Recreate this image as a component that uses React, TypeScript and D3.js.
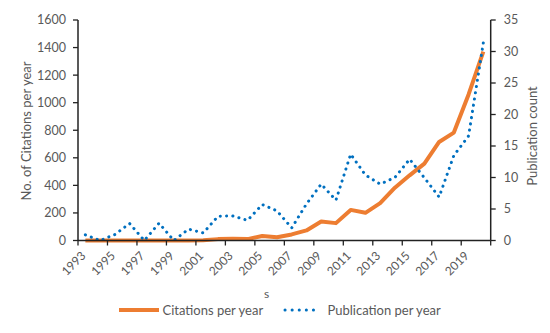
import React from "react";
import * as d3 from "d3";

const W = 550;
const H = 333;
const PLOT = { left: 78, right: 490.7, top: 20, bottom: 240.5 };

const years = d3.range(1993, 2021).map(String);
const yearLabels = ["1993", "1995", "1997", "1999", "2001", "2003", "2005", "2007", "2009", "2011", "2013", "2015", "2017", "2019"];
const citations = [0, 0, 0, 0, 0, 0, 0, 0, 2, 10, 12, 10, 33, 24, 44, 73, 138, 126, 222, 201, 271, 383, 473, 558, 715, 783, 1060, 1370];
const publications = [0.9, 0, 0.95, 2.7, 0, 2.75, 0, 1.8, 1.2, 3.85, 3.9, 3.2, 5.7, 4.7, 2, 5.8, 8.95, 6.4, 13.7, 10.4, 8.95, 10, 12.9, 9.95, 6.9, 13.5, 16.6, 31.4];
const leftTicks = [0, 200, 400, 600, 800, 1000, 1200, 1400, 1600];
const rightTicks = [0, 5, 10, 15, 20, 25, 30, 35];

const FONT = "Lato, 'Open Sans', sans-serif";
const GREY = "#595959";
const ORANGE = "#ed7d31";
const BLUE = "#0070c0";

export default function App() {
  const x = d3.scaleBand<string>().domain(years).range([PLOT.left, PLOT.right]).padding(0);
  const yL = d3.scaleLinear().domain([0, 1600]).range([PLOT.bottom, PLOT.top]);
  const yR = d3.scaleLinear().domain([0, 35]).range([PLOT.bottom, PLOT.top]);
  const cx = (y: string) => (x(y) || 0) + x.bandwidth() / 2;

  const citeLine = d3.line<number>().x((_, i) => cx(years[i])).y(d => yL(d));
  const pubLine = d3.line<number>().x((_, i) => cx(years[i])).y(d => yR(d));

  // ticks between categories, every second boundary
  const boundaries = d3.range(0, years.length + 1, 2).map(i => PLOT.left + i * x.bandwidth());

  return (
    <div style={{ margin: -8 }}>
      <svg width={W} height={H} style={{ display: "block", fontFamily: FONT }}>
        <rect x={4.5} y={4.5} width={543} height={323} fill="#fff" stroke="#d9d9d9" />

        <path d={citeLine(citations) || ""} fill="none" stroke={ORANGE} strokeWidth={4} strokeLinejoin="round" />
        <path d={pubLine(publications) || ""} fill="none" stroke={BLUE} strokeWidth={3}
          strokeLinecap="round" strokeDasharray="0.1 6.2" />

        {/* x axis */}
        <line x1={PLOT.left} x2={PLOT.right} y1={PLOT.bottom} y2={PLOT.bottom} stroke="#222" strokeWidth={1.5} />
        {boundaries.map(b => (
          <line key={b} x1={b} x2={b} y1={PLOT.bottom} y2={PLOT.bottom + 5} stroke="#222" strokeWidth={1.3} />
        ))}
        {yearLabels.map(l => (
          <text key={l} transform={`translate(${cx(l) + 1},${PLOT.bottom + 16}) rotate(-45)`}
            textAnchor="end" fontSize={12} fill={GREY}>{l}</text>
        ))}

        {/* left axis */}
        <line x1={PLOT.left} x2={PLOT.left} y1={PLOT.top} y2={PLOT.bottom} stroke="#222" strokeWidth={1.5} />
        {leftTicks.map(t => (
          <g key={t}>
            <line x1={PLOT.left - 5} x2={PLOT.left} y1={yL(t)} y2={yL(t)} stroke="#222" strokeWidth={1.3} />
            <text x={PLOT.left - 12} y={yL(t)} dy="0.35em" textAnchor="end" fontSize={12.5} fill={GREY}>{t}</text>
          </g>
        ))}

        {/* right axis */}
        <line x1={PLOT.right} x2={PLOT.right} y1={PLOT.top} y2={PLOT.bottom} stroke="#222" strokeWidth={1.5} />
        {rightTicks.map(t => (
          <g key={t}>
            <line x1={PLOT.right} x2={PLOT.right + 5} y1={yR(t)} y2={yR(t)} stroke="#222" strokeWidth={1.3} />
            <text x={PLOT.right + 13} y={yR(t)} dy="0.35em" textAnchor="start" fontSize={12.5} fill={GREY}>{t}</text>
          </g>
        ))}

        {/* axis titles */}
        <text transform="translate(31,131) rotate(-90)" textAnchor="middle" fontSize={13} fill={GREY}>No. of Citations per year</text>
        <text transform="translate(537,136) rotate(-90)" textAnchor="middle" fontSize={13} fill={GREY}>Publication count</text>
        <text x={266.7} y={298} textAnchor="middle" fontSize={12} fill={GREY}>s</text>

        {/* legend */}
        <line x1={119} x2={159} y1={310} y2={310} stroke={ORANGE} strokeWidth={4} />
        <text x={162.5} y={310} dy="0.35em" fontSize={13} fill={GREY}>Citations per year</text>
        <line x1={285} x2={320} y1={310} y2={310} stroke={BLUE} strokeWidth={3} strokeLinecap="round" strokeDasharray="0.1 7" />
        <text x={327.5} y={310} dy="0.35em" fontSize={13} fill={GREY}>Publication per year</text>
      </svg>
    </div>
  );
}
